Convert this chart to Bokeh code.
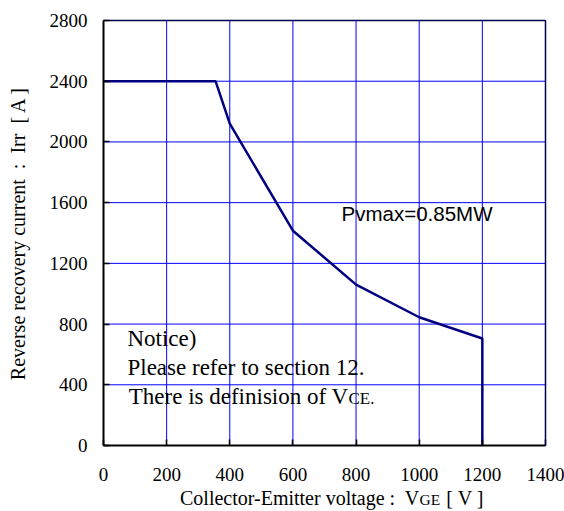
from bokeh.plotting import figure
from bokeh.models import Range1d, FixedTicker, Label, LinearAxis
from bokeh.embed import file_html
from bokeh.resources import INLINE

# ---- data ----
vce = [0, 355, 400, 600, 800, 1000, 1200, 1200]
irr = [2400, 2400, 2120, 1415, 1060, 845, 705, 0]
x_ticks = [0, 200, 400, 600, 800, 1000, 1200, 1400]
y_ticks = [0, 400, 800, 1200, 1600, 2000, 2400, 2800]

serif = "Liberation Serif"
NB = "\u00a0"

# The frame fills the whole canvas; the visible ranges are padded so that the
# data box (0..1400, 0..2800) sits where the reference draws it, and the axes
# are pinned to the data box edges.
p = figure(width=564, height=511, output_backend="svg", toolbar_location=None,
           title=None,
           x_range=Range1d(-326.2, 1460.2), y_range=Range1d(-434.8, 2931.8),
           min_border=0, min_border_left=0, min_border_right=0,
           min_border_top=0, min_border_bottom=0)
p.background_fill_color = "white"
p.border_fill_color = "white"
p.outline_line_color = None
p.grid.visible = False

x0, x1 = x_ticks[0], x_ticks[-1]
y0, y1 = y_ticks[0], y_ticks[-1]

# grid lines limited to the data box
p.segment(x0=x_ticks, y0=[y0] * len(x_ticks), x1=x_ticks, y1=[y1] * len(x_ticks),
          line_color="#0000FF", line_width=1, level="underlay")
p.segment(x0=[x0] * len(y_ticks), y0=y_ticks, x1=[x1] * len(y_ticks), y1=y_ticks,
          line_color="#0000FF", line_width=1, level="underlay")

p.xaxis.fixed_location = y0
p.yaxis.fixed_location = x0
p.xaxis.bounds = (x0, x1)
p.yaxis.bounds = (y0, y1)

for ax, ticks in ((p.xaxis, x_ticks), (p.yaxis, y_ticks)):
    ax.ticker = FixedTicker(ticks=ticks)
    ax.axis_line_color = "black"
    ax.axis_line_width = 2
    ax.major_tick_in = 6
    ax.major_tick_out = 0
    ax.major_tick_line_color = "black"
    ax.major_tick_line_width = 1.5
    ax.minor_tick_line_color = None
    ax.major_label_text_font = serif
    ax.major_label_text_font_size = "19px"
    ax.major_label_text_color = "black"
p.xaxis.major_label_standoff = 22
p.yaxis.major_label_standoff = 16

p.yaxis.axis_label = "Reverse recovery current" + NB + " :" + NB + " Irr" + NB + " [ A ]"
p.yaxis.axis_label_text_font = serif
p.yaxis.axis_label_text_font_size = "20px"
p.yaxis.axis_label_text_font_style = "normal"
p.yaxis.axis_label_text_color = "black"
p.yaxis.axis_label_standoff = 18

# top and right edges of the data box
top_ax = LinearAxis(ticker=FixedTicker(ticks=[]), axis_line_color="#000050",
                    axis_line_width=1.5, major_tick_line_color=None,
                    minor_tick_line_color=None, major_label_text_font_size="0px",
                    fixed_location=y1, bounds=(x0, x1))
right_ax = LinearAxis(ticker=FixedTicker(ticks=[]), axis_line_color="#000050",
                      axis_line_width=1.5, major_tick_line_color=None,
                      minor_tick_line_color=None, major_label_text_font_size="0px",
                      fixed_location=x1, bounds=(y0, y1))
p.add_layout(top_ax, "above")
p.add_layout(right_ax, "right")

p.line(vce, irr, line_color="#000080", line_width=2.5)

def lab(x, y, text, size, font=serif, align="left"):
    p.add_layout(Label(x=x, y=y, text=text, text_font=font, text_font_size=size,
                       text_color="black", text_baseline="alphabetic", text_align=align))

# annotations inside the plot
lab(754, 1529, "Pvmax=0.85MW", "20.5px", font="Liberation Sans")
lab(76, 705, "Notice)", "23px")
lab(76, 514, "Please refer to section 12.", "23px")
lab(776, 323, "There is definision of V", "23px", align="right")
lab(776, 309, "CE.", "17px")

# x axis title (mixed sizes)
lab(1001, -349, "Collector-Emitter voltage :" + NB + " V", "20px", align="right")
lab(1001, -359, "GE", "15.5px")
lab(1086, -349, "[ V ]", "20px")

open("out.html", "w").write(file_html(p, INLINE))
